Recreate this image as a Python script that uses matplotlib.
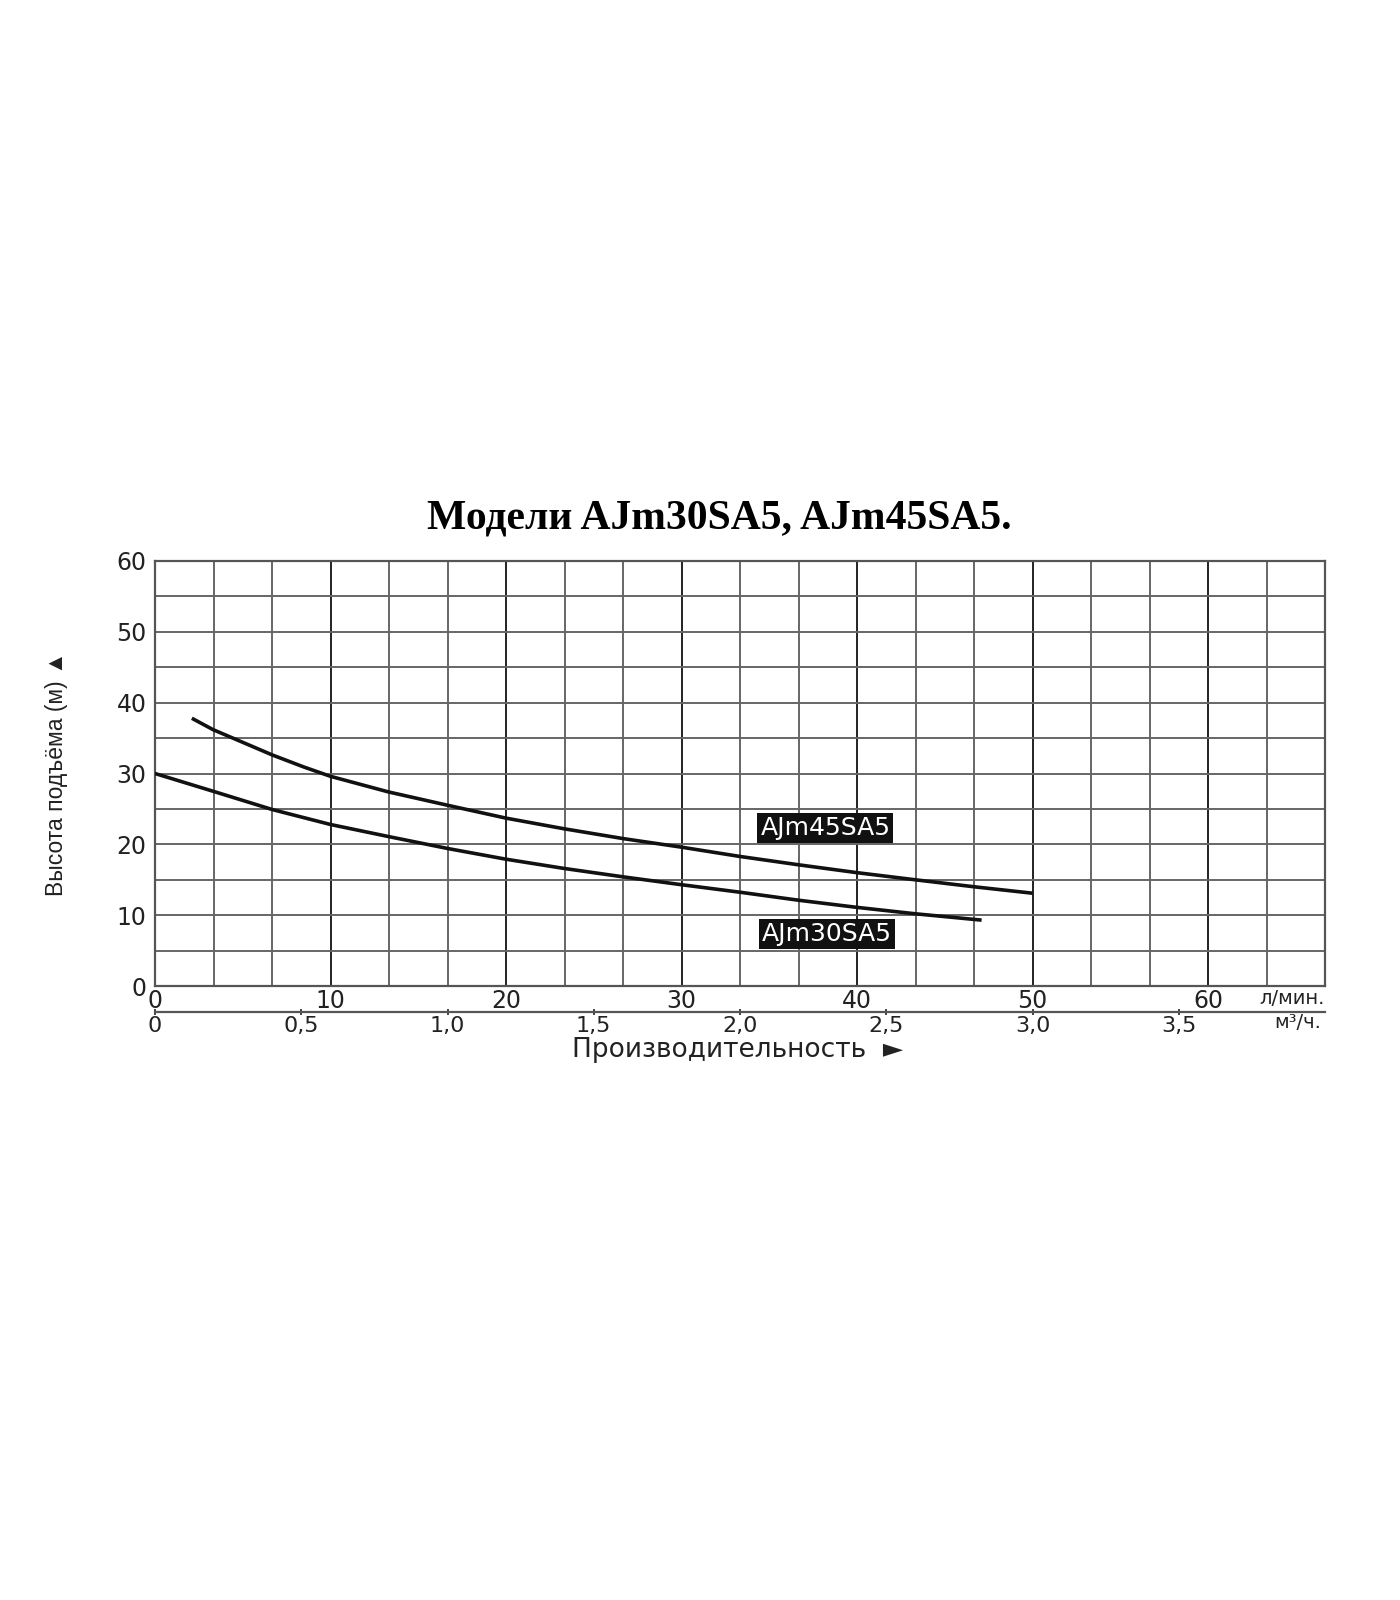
import numpy as np
import matplotlib.pyplot as plt

# pump curves: flow (l/min) -> head (m)
q45 = [2.1, 3.3, 5.0, 6.7, 8.5, 10, 13.3, 16.7, 20, 23.3, 26.7, 30, 33.3, 36.7, 40, 43.3, 46.7, 50]
h45 = [37.8, 36.2, 34.4, 32.6, 30.9, 29.6, 27.4, 25.5, 23.7, 22.2, 20.8, 19.6, 18.3, 17.1, 16.0, 15.0, 14.0, 13.1]
q30 = [0, 3.3, 6.7, 10, 13.3, 16.7, 20, 23.3, 26.7, 30, 33.3, 36.7, 40, 43.3, 47.1]
h30 = [30.0, 27.5, 24.9, 22.8, 21.1, 19.4, 17.9, 16.6, 15.4, 14.3, 13.25, 12.1, 11.1, 10.2, 9.3]

lpm_ticks = [0, 10, 20, 30, 40, 50, 60]
m3h_ticks = [0, 0.5, 1.0, 1.5, 2.0, 2.5, 3.0, 3.5]
m3h_labels = ['0', '0,5', '1,0', '1,5', '2,0', '2,5', '3,0', '3,5']
head_ticks = [0, 10, 20, 30, 40, 50, 60]

fig = plt.figure(figsize=(14, 16), dpi=100)
ax = fig.add_axes([155/1400, 1-986/1600, 1170/1400, 425/1600])

ax.set_xlim(0, 200/3)
ax.set_ylim(0, 60)

# grid: every 10/3 l/min and every 5 m
for x in np.arange(10/3, 200/3, 10/3):
    c = '#222222' if abs(x/10 - round(x/10)) < 1e-6 else '#666666'
    ax.axvline(x, color=c, lw=1.4, zorder=1)
for y in range(5, 60, 5):
    ax.axhline(y, color='#666666', lw=1.4, zorder=1)

ax.plot(q45, h45, color='#111111', lw=2.6, zorder=3, solid_capstyle='butt')
ax.plot(q30, h30, color='#111111', lw=2.6, zorder=3, solid_capstyle='butt')

ax.text(38.2, 22.3, 'AJm45SA5', color='white', fontsize=18, ha='center', va='center',
        bbox=dict(boxstyle='square,pad=0.12', fc='#111111', ec='none'), zorder=4)
ax.text(38.3, 7.3, 'AJm30SA5', color='white', fontsize=18, ha='center', va='center',
        bbox=dict(boxstyle='square,pad=0.12', fc='#111111', ec='none'), zorder=4)

for s in ax.spines.values():
    s.set_color('#555555')
    s.set_linewidth(1.6)

ax.set_yticks(head_ticks)
ax.set_xticks(lpm_ticks)
ax.tick_params(axis='both', length=0, labelsize=17, colors='#222222')
ax.tick_params(axis='y', pad=6)
ax.tick_params(axis='x', pad=2)

# second flow axis in m3/h
sec = ax.secondary_xaxis(-0.062, functions=(lambda v: v*0.06, lambda v: v/0.06))
sec.set_xticks(m3h_ticks)
sec.set_xticklabels(m3h_labels)
sec.tick_params(axis='x', length=5, width=1.2, direction='inout', labelsize=16,
                colors='#222222', pad=0)
sec.spines['bottom'].set_color('#555555')
sec.spines['bottom'].set_linewidth(1.6)

ax.text(1.0, -0.03, 'л/мин.', transform=ax.transAxes, fontsize=14, ha='right', va='center',
        color='#222222')
ax.text(0.997, -0.087, 'м³/ч.', transform=ax.transAxes, fontsize=14, ha='right', va='center',
        color='#222222')

fig.text(738/1400, 1-1050/1600, 'Производительность  ►', fontsize=19, ha='center', va='center',
         color='#222222')
fig.text(56/1400, 1-774/1600, 'Высота подъёма (м) ▲', fontsize=16.5, rotation=90,
         ha='center', va='center', color='#222222',
         family=['Liberation Sans', 'DejaVu Sans'])

fig.text(719/1400, 1-518/1600, 'Модели AJm30SA5, AJm45SA5.', fontsize=30, fontweight='bold',
         family='Liberation Serif', ha='center', va='center', color='black')

fig.savefig('out.png', dpi=100)
